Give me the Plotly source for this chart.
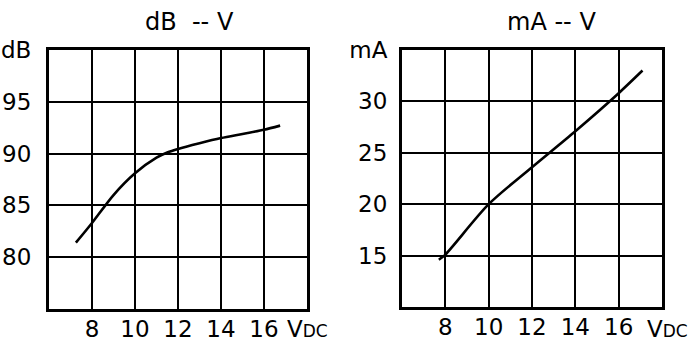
import plotly.graph_objects as go

# dB vs V
db_v = [7.25, 8.0, 9.0, 10.0, 11.0, 11.5, 12.0, 13.0, 14.0, 15.0, 16.0, 16.75]
db_val = [81.4, 83.3, 86.0, 88.1, 89.6, 90.1, 90.45, 91.0, 91.5, 91.9, 92.3, 92.7]

# mA vs V
ma_v = [7.7, 8.0, 10.0, 12.0, 14.0, 16.0, 17.1]
ma_val = [14.6, 15.1, 20.0, 23.6, 27.1, 30.8, 33.0]

x_ticks = [8, 10, 12, 14, 16]
x_ticktext = ["8", "10", "12", "14", "16"]
db_ticks = [80, 85, 90, 95, 100]
db_ticktext = ["80", "85", "90", "95", "dB"]
ma_ticks = [15, 20, 25, 30, 35]
ma_ticktext = ["15", "20", "25", "30", "mA"]

FONT = "DejaVu Sans, Liberation Sans, Arial"

fig = go.Figure()
fig.add_trace(go.Scatter(x=db_v, y=db_val, mode="lines", line=dict(color="black", width=2.6, shape="spline", smoothing=0.8),
                         xaxis="x", yaxis="y", showlegend=False, hoverinfo="skip"))
fig.add_trace(go.Scatter(x=ma_v, y=ma_val, mode="lines", line=dict(color="black", width=2.6, shape="spline", smoothing=0.8),
                         xaxis="x2", yaxis="y2", showlegend=False, hoverinfo="skip"))

common_x = dict(range=[6, 18], tickmode="array", tickvals=x_ticks, ticktext=x_ticktext,
                showgrid=True, gridcolor="black", gridwidth=2, zeroline=False, automargin=False,
                showline=True, linecolor="black", linewidth=3, mirror=True, ticks="",
                ticklabelstandoff=-3, tickfont=dict(family=FONT, size=23, color="black"))
common_y = dict(tickmode="array", showgrid=True, gridcolor="black", gridwidth=2, zeroline=False,
                showline=True, linecolor="black", linewidth=3, mirror=True, ticks="", automargin=False,
                tickfont=dict(family=FONT, size=23, color="black"))

fig.update_layout(
    width=700, height=352, margin=dict(l=0, r=0, t=0, b=0),
    paper_bgcolor="white", plot_bgcolor="white",
    xaxis=dict(domain=[49/700, 307/700], anchor="y", **common_x),
    yaxis=dict(domain=[1-309/352, 1-50/352], anchor="x", range=[75, 100],
               tickvals=db_ticks, ticktext=db_ticktext, ticklabelstandoff=10, **common_y),
    xaxis2=dict(domain=[402/700, 662/700], anchor="y2", **common_x),
    yaxis2=dict(domain=[1-307/352, 1-50/352], anchor="x2", range=[10, 35],
                tickvals=ma_ticks, ticktext=ma_ticktext, ticklabelstandoff=7, **common_y),
    annotations=[
        dict(text="dB\u00a0 -- V", x=190/700, y=1-22/352, xref="paper", yref="paper",
             xanchor="center", yanchor="middle", showarrow=False,
             font=dict(family=FONT, size=24, color="black")),
        dict(text="mA -- V", x=551/700, y=1-22/352, xref="paper", yref="paper",
             xanchor="center", yanchor="middle", showarrow=False,
             font=dict(family=FONT, size=24, color="black")),
        dict(text="V<span style='font-size:17px'>DC</span>", x=285/700, y=1-329/352,
             xref="paper", yref="paper", xanchor="left", yanchor="middle", showarrow=False,
             font=dict(family=FONT, size=23, color="black")),
        dict(text="V<span style='font-size:17px'>DC</span>", x=645/700, y=1-329/352,
             xref="paper", yref="paper", xanchor="left", yanchor="middle", showarrow=False,
             font=dict(family=FONT, size=23, color="black")),
    ],
)

fig.write_html("out.html")
